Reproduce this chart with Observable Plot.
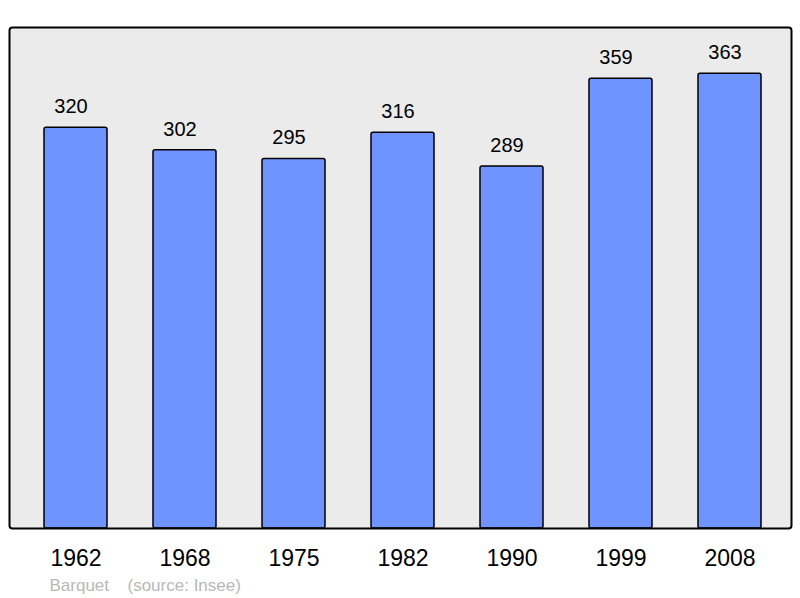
<!DOCTYPE html>
<html>
<head>
<meta charset="utf-8">
<script src="https://cdn.jsdelivr.net/npm/d3@7"></script>
<script src="https://cdn.jsdelivr.net/npm/@observablehq/plot@0.6"></script>
<style>
  html, body { margin: 0; padding: 0; background: #ffffff; }
  #chart { width: 800px; height: 598px; }
</style>
</head>
<body>
<div id="chart"></div>
<script>
const years = ["1962", "1968", "1975", "1982", "1990", "1999", "2008"];
const populations = [320, 302, 295, 316, 289, 359, 363];
const commune = "Barquet";
const source = "(source: Insee)";

const data = years.map((y, i) => ({year: y, value: populations[i]}));

const chart = Plot.plot({
  width: 800,
  height: 598,
  marginLeft: 9,
  marginRight: 9,
  marginTop: 27,
  marginBottom: 70,
  style: {fontFamily: "'Liberation Sans', Arial, sans-serif", background: "#ffffff", overflow: "visible"},
  x: {domain: years, range: [20, 784], paddingInner: 0.425, paddingOuter: 0.2, align: 0.5},
  y: {domain: [0, 400], axis: null},
  marks: [
    Plot.frame({fill: "#ebebeb", stroke: "none", rx: 3}),
    Plot.barY(data, {x: "year", y: "value", fill: "#7094ff", stroke: "#000000", strokeWidth: 1.5, rx: 2}),
    Plot.text(data, {x: "year", y: "value", text: d => String(d.value), dy: -21, dx: -5, fontSize: 20, fill: "#000000"}),
    Plot.frame({stroke: "#000000", strokeWidth: 2, rx: 3}),
    Plot.axisX({tickSize: 0, tickPadding: 21, fontSize: 23, fill: "#000000", label: null}),
    Plot.text([commune], {frameAnchor: "bottom-left", dx: 40, dy: 62, textAnchor: "start", lineAnchor: "bottom", fontSize: 17, fill: "#b8b8b8"}),
    Plot.text([source], {frameAnchor: "bottom-left", dx: 118, dy: 62, textAnchor: "start", lineAnchor: "bottom", fontSize: 17, fill: "#b8b8b8"})
  ]
});
document.getElementById("chart").appendChild(chart);
</script>
</body>
</html>
